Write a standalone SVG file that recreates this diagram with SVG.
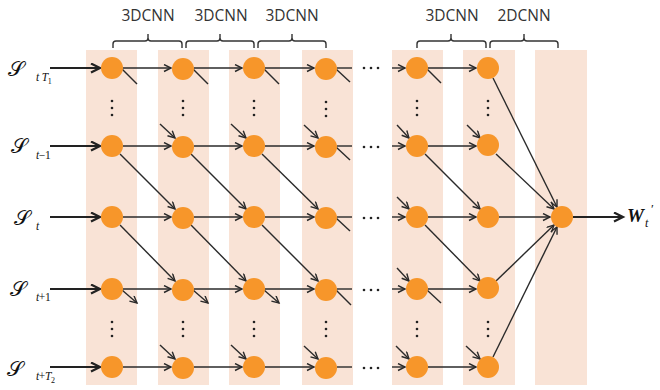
<svg xmlns="http://www.w3.org/2000/svg" width="660" height="390" viewBox="0 0 660 390">
  <style>
    .band { fill: #F9E3D6; }
    .node { fill: #F7962A; }
    .ln { stroke: #2a2a2a; stroke-width: 1.4; fill: none; }
    .lnA { stroke: #2a2a2a; stroke-width: 1.4; fill: none; marker-end: url(#arr); }
    .thick { stroke: #222; stroke-width: 2.2; fill: none; marker-end: url(#arrB); }
    .brace { stroke: #333; stroke-width: 1.4; fill: none; }
    .lbl { font-family: "Open Sans", "DejaVu Sans", sans-serif; font-size: 15.5px; fill: #333; text-anchor: middle; }
    .dot { fill: #222; }
    .math { font-family: "Liberation Serif", "DejaVu Serif", serif; font-style: italic; fill: #111; }
    .sub { font-family: "Liberation Serif", "DejaVu Serif", serif; font-style: italic; font-size: 11.5px; letter-spacing: -0.4px; fill: #111; }
    .up { font-style: normal; }
    .scr { font-family: "DejaVu Serif", "Liberation Serif", serif; font-size: 21px; fill: #111; }
  </style>
  <defs>
    <marker id="arr" markerUnits="userSpaceOnUse" markerWidth="12" markerHeight="10" refX="8" refY="4" orient="auto">
      <path d="M1,0.5 L8,4 L1,7.5" fill="none" stroke="#2a2a2a" stroke-width="1.4"/>
    </marker>
    <marker id="arrB" markerUnits="userSpaceOnUse" markerWidth="14" markerHeight="12" refX="10" refY="5" orient="auto">
      <path d="M1,0.5 L10,5 L1,9.5" fill="none" stroke="#222" stroke-width="2.2"/>
    </marker>
    <circle id="dt" r="1.3" class="dot"/>
  </defs>

  <!-- column bands -->
  <g id="bands">
    <rect class="band" x="86" y="50" width="51" height="335"/>
    <rect class="band" x="158" y="50" width="51" height="335"/>
    <rect class="band" x="229" y="50" width="51" height="335"/>
    <rect class="band" x="302" y="50" width="51" height="335"/>
    <rect class="band" x="392" y="50" width="51" height="335"/>
    <rect class="band" x="463" y="50" width="52" height="335"/>
    <rect class="band" x="535" y="50" width="52" height="335"/>
  </g>

  <!-- layer braces and labels -->
  <g id="layers">
    <path class="brace" d="M113,48 v-4 q0,-3 3,-3 h29 q3,0 3,-3 v-4 v4 q0,3 3,3 h28 q3,0 3,3 v4"/>
    <path class="brace" d="M186,48 v-4 q0,-3 3,-3 h28 q3,0 3,-3 v-4 v4 q0,3 3,3 h28 q3,0 3,3 v4"/>
    <path class="brace" d="M258,48 v-4 q0,-3 3,-3 h28 q3,0 3,-3 v-4 v4 q0,3 3,3 h28 q3,0 3,3 v4"/>
    <path class="brace" d="M417,48 v-4 q0,-3 3,-3 h28 q3,0 3,-3 v-4 v4 q0,3 3,3 h29 q3,0 3,3 v4"/>
    <path class="brace" d="M490,48 v-4 q0,-3 3,-3 h28 q3,0 3,-3 v-4 v4 q0,3 3,3 h28 q3,0 3,3 v4"/>
    <text class="lbl" x="148" y="21">3DCNN</text>
    <text class="lbl" x="221" y="21">3DCNN</text>
    <text class="lbl" x="292" y="21">3DCNN</text>
    <text class="lbl" x="452" y="21">3DCNN</text>
    <text class="lbl" x="524" y="21">2DCNN</text>
  </g>

  <!-- connectors -->
  <g id="connectors">
    <!-- inputs -->
    <line class="thick" x1="50" y1="68" x2="100" y2="68"/>
    <line class="thick" x1="50" y1="146" x2="100" y2="146"/>
    <line class="thick" x1="50" y1="217" x2="100" y2="217"/>
    <line class="thick" x1="50" y1="289" x2="100" y2="289"/>
    <line class="thick" x1="50" y1="367" x2="100" y2="367"/>

    <!-- horizontal links between columns -->
    <line class="lnA" x1="123" y1="68" x2="171" y2="68"/>
    <line class="lnA" x1="123" y1="146" x2="171" y2="146"/>
    <line class="lnA" x1="123" y1="217" x2="171" y2="217"/>
    <line class="lnA" x1="123" y1="289" x2="171" y2="289"/>
    <line class="lnA" x1="123" y1="367" x2="171" y2="367"/>
    <line class="lnA" x1="194" y1="68" x2="242" y2="68"/>
    <line class="lnA" x1="194" y1="146" x2="242" y2="146"/>
    <line class="lnA" x1="194" y1="217" x2="242" y2="217"/>
    <line class="lnA" x1="194" y1="289" x2="242" y2="289"/>
    <line class="lnA" x1="194" y1="367" x2="242" y2="367"/>
    <line class="lnA" x1="265" y1="68" x2="314" y2="68"/>
    <line class="lnA" x1="265" y1="146" x2="314" y2="146"/>
    <line class="lnA" x1="265" y1="217" x2="314" y2="217"/>
    <line class="lnA" x1="265" y1="289" x2="314" y2="289"/>
    <line class="lnA" x1="265" y1="367" x2="314" y2="367"/>
    <line class="ln" x1="337" y1="68" x2="352" y2="68"/>
    <line class="ln" x1="337" y1="146" x2="352" y2="146"/>
    <line class="ln" x1="337" y1="217" x2="352" y2="217"/>
    <line class="ln" x1="337" y1="289" x2="352" y2="289"/>
    <line class="ln" x1="337" y1="367" x2="352" y2="367"/>
    <line class="lnA" x1="392" y1="68" x2="405" y2="68"/>
    <line class="lnA" x1="392" y1="146" x2="405" y2="146"/>
    <line class="lnA" x1="392" y1="217" x2="405" y2="217"/>
    <line class="lnA" x1="392" y1="289" x2="405" y2="289"/>
    <line class="lnA" x1="392" y1="367" x2="405" y2="367"/>
    <line class="lnA" x1="428" y1="68" x2="476" y2="68"/>
    <line class="lnA" x1="428" y1="146" x2="476" y2="146"/>
    <line class="lnA" x1="428" y1="217" x2="476" y2="217"/>
    <line class="lnA" x1="428" y1="289" x2="476" y2="289"/>
    <line class="lnA" x1="428" y1="367" x2="476" y2="367"/>

    <!-- diagonal links (row to next row, next column) -->
    <line class="lnA" x1="120" y1="154" x2="175" y2="209"/>
    <line class="lnA" x1="120" y1="225" x2="175" y2="281"/>
    <line class="lnA" x1="191" y1="154" x2="246" y2="209"/>
    <line class="lnA" x1="191" y1="225" x2="246" y2="281"/>
    <line class="lnA" x1="262" y1="154" x2="318" y2="209"/>
    <line class="lnA" x1="262" y1="225" x2="318" y2="281"/>
    <line class="lnA" x1="425" y1="154" x2="480" y2="209"/>
    <line class="lnA" x1="425" y1="225" x2="480" y2="281"/>

    <!-- outgoing stubs, top row -->
    <line class="ln" x1="122" y1="69" x2="137" y2="84"/>
    <line class="ln" x1="193" y1="69" x2="208" y2="84"/>
    <line class="ln" x1="264" y1="69" x2="279" y2="84"/>
    <line class="ln" x1="336" y1="69" x2="350" y2="82"/>
    <line class="ln" x1="427" y1="69" x2="441" y2="83"/>
    <!-- outgoing stubs, lower row -->
    <line class="lnA" x1="122" y1="290" x2="137" y2="303"/>
    <line class="lnA" x1="193" y1="290" x2="208" y2="303"/>
    <line class="lnA" x1="264" y1="290" x2="279" y2="303"/>
    <line class="ln" x1="336" y1="290" x2="351" y2="305"/>
    <line class="ln" x1="427" y1="290" x2="441" y2="303"/>
    <!-- outgoing stubs before the gap -->
    <line class="ln" x1="336" y1="147" x2="350" y2="160"/>
    <line class="ln" x1="336" y1="218" x2="350" y2="231"/>

    <!-- incoming stubs -->
    <line class="lnA" x1="160" y1="124" x2="175" y2="138"/>
    <line class="lnA" x1="231" y1="124" x2="246" y2="138"/>
    <line class="lnA" x1="304" y1="125" x2="318" y2="138"/>
    <line class="lnA" x1="160" y1="345" x2="175" y2="359"/>
    <line class="lnA" x1="231" y1="345" x2="246" y2="359"/>
    <line class="lnA" x1="304" y1="346" x2="318" y2="359"/>
    <line class="lnA" x1="397" y1="125" x2="409" y2="138"/>
    <line class="lnA" x1="397" y1="197" x2="409" y2="209"/>
    <line class="lnA" x1="397" y1="268" x2="409" y2="281"/>
    <line class="lnA" x1="396" y1="346" x2="409" y2="359"/>
    <line class="lnA" x1="467" y1="125" x2="480" y2="138"/>
    <line class="lnA" x1="466" y1="346" x2="480" y2="359"/>

    <!-- into the fusion node -->
    <line class="lnA" x1="493" y1="78" x2="557" y2="207"/>
    <line class="lnA" x1="496" y1="154" x2="554" y2="209"/>
    <line class="lnA" x1="499" y1="217" x2="550" y2="217"/>
    <line class="lnA" x1="496" y1="281" x2="554" y2="225"/>
    <line class="lnA" x1="493" y1="357" x2="557" y2="227"/>

    <!-- output -->
    <line class="thick" x1="573" y1="217" x2="623" y2="217"/>
  </g>

  <!-- vertical ellipses -->
  <g id="vdots">
    <use href="#dt" x="112" y="101"/><use href="#dt" x="112" y="108"/><use href="#dt" x="112" y="115"/>
    <use href="#dt" x="183" y="101"/><use href="#dt" x="183" y="108"/><use href="#dt" x="183" y="115"/>
    <use href="#dt" x="254" y="101"/><use href="#dt" x="254" y="108"/><use href="#dt" x="254" y="115"/>
    <use href="#dt" x="326" y="102"/><use href="#dt" x="326" y="109"/><use href="#dt" x="326" y="116"/>
    <use href="#dt" x="417" y="101"/><use href="#dt" x="417" y="108"/><use href="#dt" x="417" y="115"/>
    <use href="#dt" x="488" y="101"/><use href="#dt" x="488" y="108"/><use href="#dt" x="488" y="115"/>
    <use href="#dt" x="112" y="322"/><use href="#dt" x="112" y="329"/><use href="#dt" x="112" y="336"/>
    <use href="#dt" x="183" y="322"/><use href="#dt" x="183" y="329"/><use href="#dt" x="183" y="336"/>
    <use href="#dt" x="254" y="322"/><use href="#dt" x="254" y="329"/><use href="#dt" x="254" y="336"/>
    <use href="#dt" x="326" y="322"/><use href="#dt" x="326" y="329"/><use href="#dt" x="326" y="336"/>
    <use href="#dt" x="417" y="322"/><use href="#dt" x="417" y="329"/><use href="#dt" x="417" y="336"/>
    <use href="#dt" x="488" y="322"/><use href="#dt" x="488" y="329"/><use href="#dt" x="488" y="336"/>
  </g>
  <!-- horizontal ellipses in the gap -->
  <g id="hdots">
    <use href="#dt" x="364" y="68"/><use href="#dt" x="371" y="68"/><use href="#dt" x="378" y="68"/>
    <use href="#dt" x="364" y="147"/><use href="#dt" x="371" y="147"/><use href="#dt" x="378" y="147"/>
    <use href="#dt" x="364" y="218"/><use href="#dt" x="371" y="218"/><use href="#dt" x="378" y="218"/>
    <use href="#dt" x="364" y="290"/><use href="#dt" x="371" y="290"/><use href="#dt" x="378" y="290"/>
    <use href="#dt" x="364" y="368"/><use href="#dt" x="371" y="368"/><use href="#dt" x="378" y="368"/>
  </g>

  <!-- nodes -->
  <g id="c1"><circle class="node" cx="112" cy="68" r="11"/><circle class="node" cx="112" cy="146" r="11"/><circle class="node" cx="112" cy="217" r="11"/><circle class="node" cx="112" cy="289" r="11"/><circle class="node" cx="112" cy="367" r="11"/></g>
  <g id="c2"><circle class="node" cx="183" cy="69" r="11"/><circle class="node" cx="183" cy="147" r="11"/><circle class="node" cx="183" cy="218" r="11"/><circle class="node" cx="183" cy="290" r="11"/><circle class="node" cx="183" cy="368" r="11"/></g>
  <g id="c3"><circle class="node" cx="254" cy="68" r="11"/><circle class="node" cx="254" cy="146" r="11"/><circle class="node" cx="254" cy="217" r="11"/><circle class="node" cx="254" cy="289" r="11"/><circle class="node" cx="254" cy="367" r="11"/></g>
  <g id="c4"><circle class="node" cx="326" cy="69" r="11"/><circle class="node" cx="326" cy="147" r="11"/><circle class="node" cx="326" cy="218" r="11"/><circle class="node" cx="326" cy="290" r="11"/><circle class="node" cx="326" cy="368" r="11"/></g>
  <g id="c5"><circle class="node" cx="417" cy="68" r="11"/><circle class="node" cx="417" cy="146" r="11"/><circle class="node" cx="417" cy="217" r="11"/><circle class="node" cx="417" cy="289" r="11"/><circle class="node" cx="417" cy="367" r="11"/></g>
  <g id="c6"><circle class="node" cx="488" cy="68" r="11"/><circle class="node" cx="488" cy="145" r="11"/><circle class="node" cx="488" cy="217" r="11"/><circle class="node" cx="488" cy="288" r="11"/><circle class="node" cx="488" cy="367" r="11"/></g>
  <g id="fuse"><circle class="node" cx="562" cy="217" r="11"/></g>

  <!-- input labels -->
  <g id="inputs">
    <text class="scr" x="8" y="76">𝒮</text>
    <text class="sub" x="36" y="81">t<tspan dx="3">T</tspan><tspan class="up" font-size="8" dy="3">1</tspan></text>

    <text class="scr" x="11" y="153">𝒮</text>
    <text class="sub" x="36" y="159">t<tspan class="up">−1</tspan></text>

    <text class="scr" x="14" y="225">𝒮</text>
    <text class="sub" x="36" y="230">t</text>

    <text class="scr" x="10" y="296">𝒮</text>
    <text class="sub" x="36" y="301">t<tspan class="up">+1</tspan></text>

    <text class="scr" x="7" y="376">𝒮</text>
    <text class="sub" x="36" y="380">t<tspan class="up">+</tspan>T<tspan class="up" font-size="8" dy="3">2</tspan></text>
  </g>

  <!-- output label -->
  <g id="output">
    <text font-family="Liberation Serif, serif" font-weight="bold" font-style="italic" font-size="19" x="627" y="222" fill="#111">W</text>
    <text class="math" x="645" y="227" font-size="12">t</text>
    <text font-family="Liberation Serif, serif" x="651" y="213" font-size="13" fill="#111">′</text>
  </g>
</svg>
